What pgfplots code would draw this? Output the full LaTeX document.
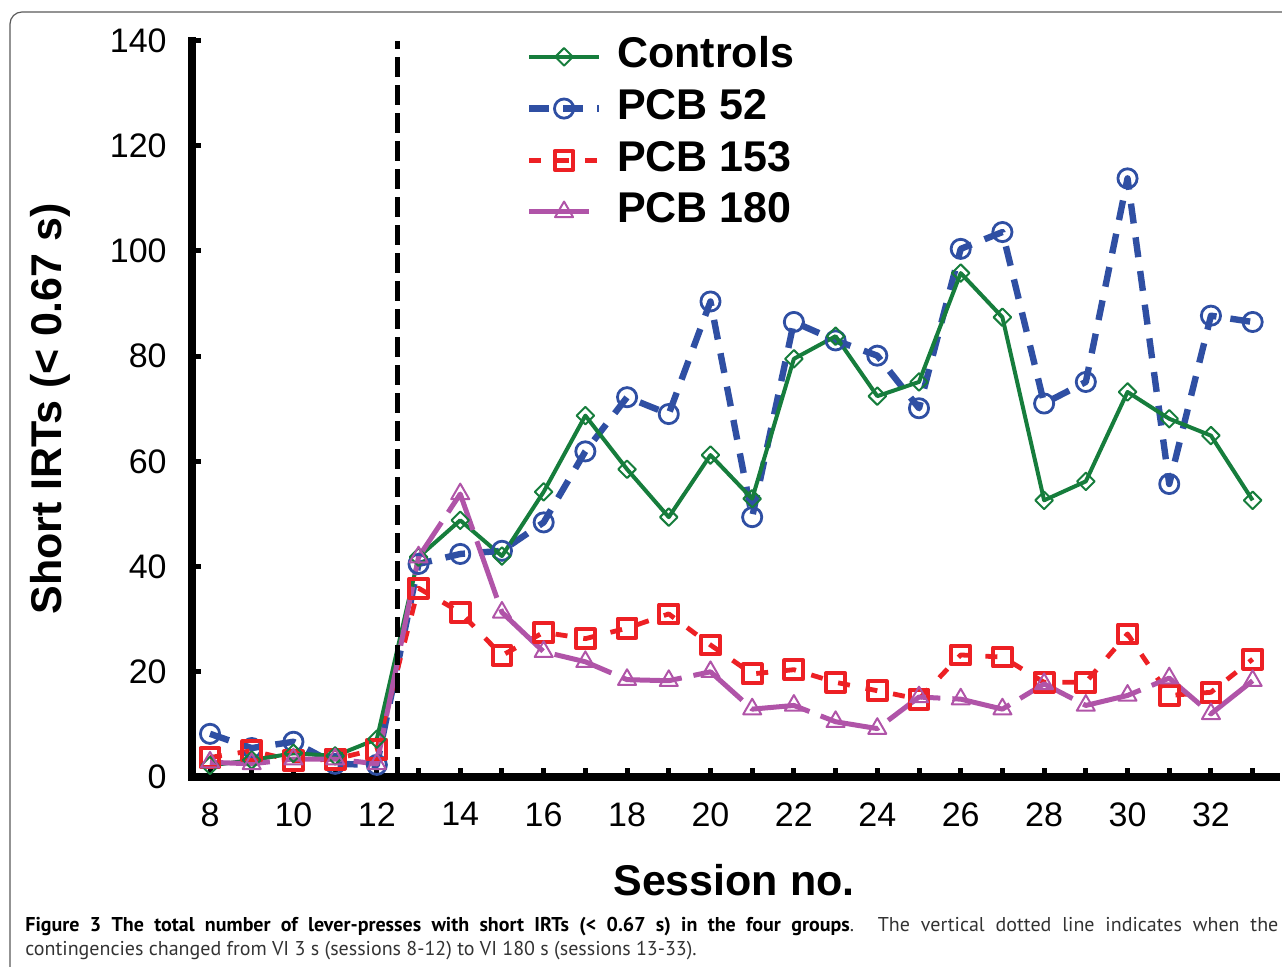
\documentclass[border=0pt]{standalone}
\usepackage{fontspec}
\setmainfont{Liberation Sans}
\newfontfamily\capfont{PT Sans}
\usepackage{pgfplots}
\pgfplotsset{compat=1.18}
\definecolor{cgreen}{RGB}{22,125,60}
\definecolor{cblue}{RGB}{47,79,163}
\definecolor{cred}{RGB}{237,32,36}
\definecolor{cpurple}{RGB}{176,84,168}
\pgfplotsset{
  ctrl/.style={cgreen, line width=2pt, solid, line join=round, mark=square, mark size=3.1pt,
    mark options={rotate=45, solid, fill=white, line width=1pt}},
  pcbA/.style={cblue, line width=3.2pt, line join=round, dash pattern=on 10pt off 7pt, mark=o, mark size=4.8pt,
    mark options={solid, fill=white, line width=1.4pt}},
  pcbB/.style={cred, line width=2.4pt, line join=round, dash pattern=on 6pt off 8pt, mark=square, mark size=4.7pt,
    mark options={solid, fill=white, line width=2pt}},
  pcbC/.style={cpurple, line width=2.5pt, line join=round, dash pattern=on 30pt off 6pt, mark=triangle, mark size=5.2pt,
    mark options={solid, fill=white, line width=1pt}},
}
\begin{document}
\begin{tikzpicture}
\draw[black!65, line width=0.6pt, rounded corners=6pt] (5pt,-10pt) rectangle (700pt,477.5pt);
\begin{axis}[
  at={(96pt,95pt)}, anchor=south west,
  scale only axis, width=542pt, height=368.2pt,
  xmin=7.568, xmax=33.56, ymin=0, ymax=140,
  axis lines=left,
  axis line style={-, line width=4pt, line cap=rect, black},
  xtick={8,10,...,32}, minor xtick={9,11,...,33},
  ytick={0,20,...,140},
  tick align=inside,
  major tick length=4.5pt, minor tick length=4.5pt,
  every tick/.style={black, line width=2.5pt},
  every minor tick/.style={black, line width=2.5pt},
  /pgf/number format/assume math mode=true,
  ticklabel style={font=\fontsize{17}{20}\selectfont},
  yticklabel style={anchor=east, inner sep=0pt, xshift=-12.5pt},
  xticklabel style={anchor=north, inner sep=0pt, yshift=-12.5pt},
  xlabel={Session no.},
  xlabel style={font=\bfseries\fontsize{21.5}{26}\selectfont, at={(axis description cs:0.5,-0.1181)}, anchor=north, inner sep=0pt},
  ylabel={Short IRTs (< 0.67 s)},
  ylabel style={font=\bfseries\fontsize{21.5}{26}\selectfont, at={(axis description cs:-0.1116,0.5)}, anchor=south, inner sep=0pt},
  legend cell align=left,
  legend style={draw=none, fill=none, inner sep=0pt, outer sep=0pt,
    at={(axis description cs:0.308,1.0105)}, anchor=north west,
    font=\bfseries\fontsize{21.5}{26}\selectfont, row sep=1.85pt,
    nodes={inner sep=2pt, text height=15.5pt, text depth=4.5pt},
    /tikz/every odd column/.append style={column sep=5.5pt}},
  legend image code/.code={\draw[mark repeat=2, mark phase=2] plot coordinates {(0pt,0pt) (17.5pt,0pt) (35pt,0pt)};},
  clip=false,
]
\addlegendimage{ctrl}
\addlegendimage{pcbA}
\addlegendimage{pcbB}
\addlegendimage{pcbC}
% PCB 52
\addplot[pcbA, forget plot] coordinates {
(8,8.2) (9,5.5) (10,6.7) (11,2.5) (12,2.3) (13,40.5) (14,42.4) (15,43.0) (16,48.4) (17,61.9)
(18,72.2) (19,69.0) (20,90.4) (21,49.4) (22,86.5) (23,83.0) (24,80.1) (25,70.1) (26,100.4)
(27,103.6) (28,71.0) (29,75.1) (30,113.8) (31,55.7) (32,87.7) (33,86.5)};
% PCB 153
\addplot[pcbB, forget plot] coordinates {
(8,3.7) (9,5.0) (10,3.1) (11,3.4) (12,5.3) (13,35.9) (14,31.3) (15,23.1) (16,27.5) (17,26.3)
(18,28.3) (19,31.0) (20,25.1) (21,19.6) (22,20.4) (23,18.0) (24,16.4) (25,14.8) (26,23.2)
(27,22.8) (28,18.0) (29,18.0) (30,27.2) (31,15.5) (32,16.1) (33,22.4)};
% Controls
\addplot[ctrl, forget plot] coordinates {
(8,2.2) (9,3.2) (10,4.5) (11,4.0) (12,7.2) (13,41.8) (14,48.8) (15,42.0) (16,54.2) (17,68.7)
(18,58.5) (19,49.4) (20,61.2) (21,52.9) (22,79.5) (23,83.8) (24,72.4) (25,75.1) (26,95.8)
(27,87.4) (28,52.6) (29,56.2) (30,73.2) (31,68.1) (32,64.9) (33,52.6)};
% PCB 180
\addplot[pcbC, forget plot] coordinates {
(8,2.8) (9,2.5) (10,3.4) (11,3.4) (12,2.5) (13,41.8) (14,53.8) (15,31.3) (16,23.8) (17,21.9)
(18,18.5) (19,18.3) (20,20.0) (21,12.9) (22,13.6) (23,10.5) (24,9.2) (25,15.2) (26,14.8)
(27,12.9) (28,17.7) (29,13.6) (30,15.5) (31,18.8) (32,12.0) (33,18.3)};
% contingency change
\addplot[black, line width=2.6pt, dash pattern=on 10pt off 4pt, forget plot] coordinates {(12.5,0) (12.5,140)};
\legend{Controls, PCB 52, PCB 153, PCB 180}
\end{axis}
\node[anchor=base west, inner sep=0pt, font=\capfont\fontsize{10}{12}\selectfont] at (12.5pt,17.5pt)
  {\makebox[626.5pt][s]{\textbf{Figure 3 The total number of lever-presses with short IRTs (< 0.67 s) in the four groups}\textcolor{black!80}{. The vertical dotted line indicates when the}}};
\node[anchor=base west, inner sep=0pt, font=\capfont\fontsize{10}{12}\selectfont, text=black!80] at (12.5pt,5.5pt)
  {contingencies changed from VI 3 s (sessions 8-12) to VI 180 s (sessions 13-33).};
\pgfresetboundingbox
\useasboundingbox (0,0) rectangle (641pt,483.5pt);
\end{tikzpicture}
\end{document}
